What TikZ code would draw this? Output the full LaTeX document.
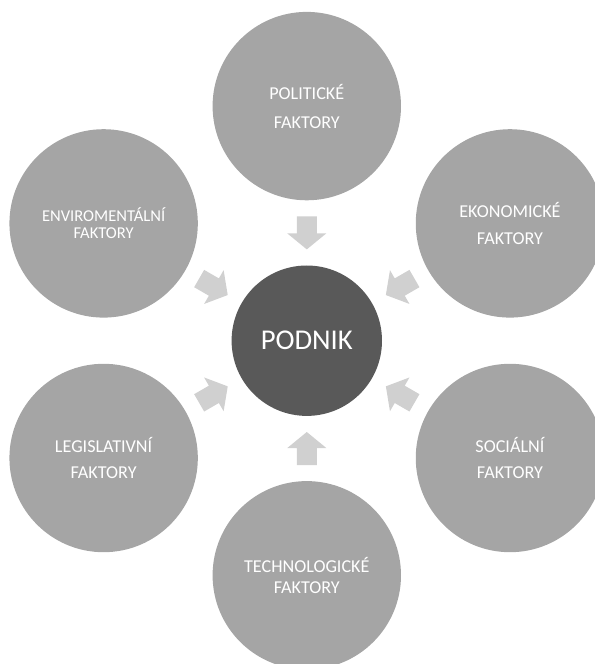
\documentclass[tikz,border=0pt]{standalone}
\usepackage{fontspec}
\setmainfont{Carlito}
\usepackage{tikz}
\definecolor{factorgray}{HTML}{A5A5A5}
\definecolor{coregray}{HTML}{595959}
\definecolor{arrowgray}{HTML}{D0D0D0}
\tikzset{
  factor/.style={circle, fill=factorgray, text=white, minimum size=141.3pt,
    inner sep=0pt, align=center},
  core/.style={circle, fill=coregray, text=white, minimum size=112.8pt,
    inner sep=0pt, font=\fontsize{21.5pt}{26pt}\selectfont},
  inarrow/.style={fill=arrowgray}
}

\begin{document}
\begin{tikzpicture}[x=0.75pt,y=0.75pt]
    % page frame
    \clip (-306.8,-323.3) rectangle (288.2,340.7);
    % the firm in the middle
    \node[core] (podnik) at (0,0) {PODNIK};
    % factors round it
    \node[factor, font=\fontsize{13.6pt}{21.6pt}\selectfont] (pol) at (90:234.6) {POLITICKÉ\\FAKTORY};
    \node[factor, font=\fontsize{13.6pt}{20.6pt}\selectfont] (eko) at (30:234.6) {EKONOMICKÉ\\FAKTORY};
    \node[factor, font=\fontsize{13.6pt}{20pt}\selectfont] (soc) at (-30:234.6) {SOCIÁLNÍ\\FAKTORY};
    \node[factor, font=\fontsize{13.6pt}{16.2pt}\selectfont] (tech) at (-90:234.6) {TECHNOLOGICKÉ\\FAKTORY};
    \node[factor, font=\fontsize{13.6pt}{20pt}\selectfont] (leg) at (210:234.6) {LEGISLATIVNÍ\\FAKTORY};
    \node[factor, font=\fontsize{12.4pt}{12.5pt}\selectfont] (env) at (150:234.6) {ENVIROMENTÁLNÍ\\FAKTORY};
    % block arrows pointing in
    \foreach \a in {90,30,-30,-90,-150,150} {
        \fill[inarrow, rotate=\a] (124.3,10) -- (107.3,10) -- (107.3,19.5) -- (91.3,0)
            -- (107.3,-19.5) -- (107.3,-10) -- (124.3,-10) -- cycle;
    }
\end{tikzpicture}
\end{document}
